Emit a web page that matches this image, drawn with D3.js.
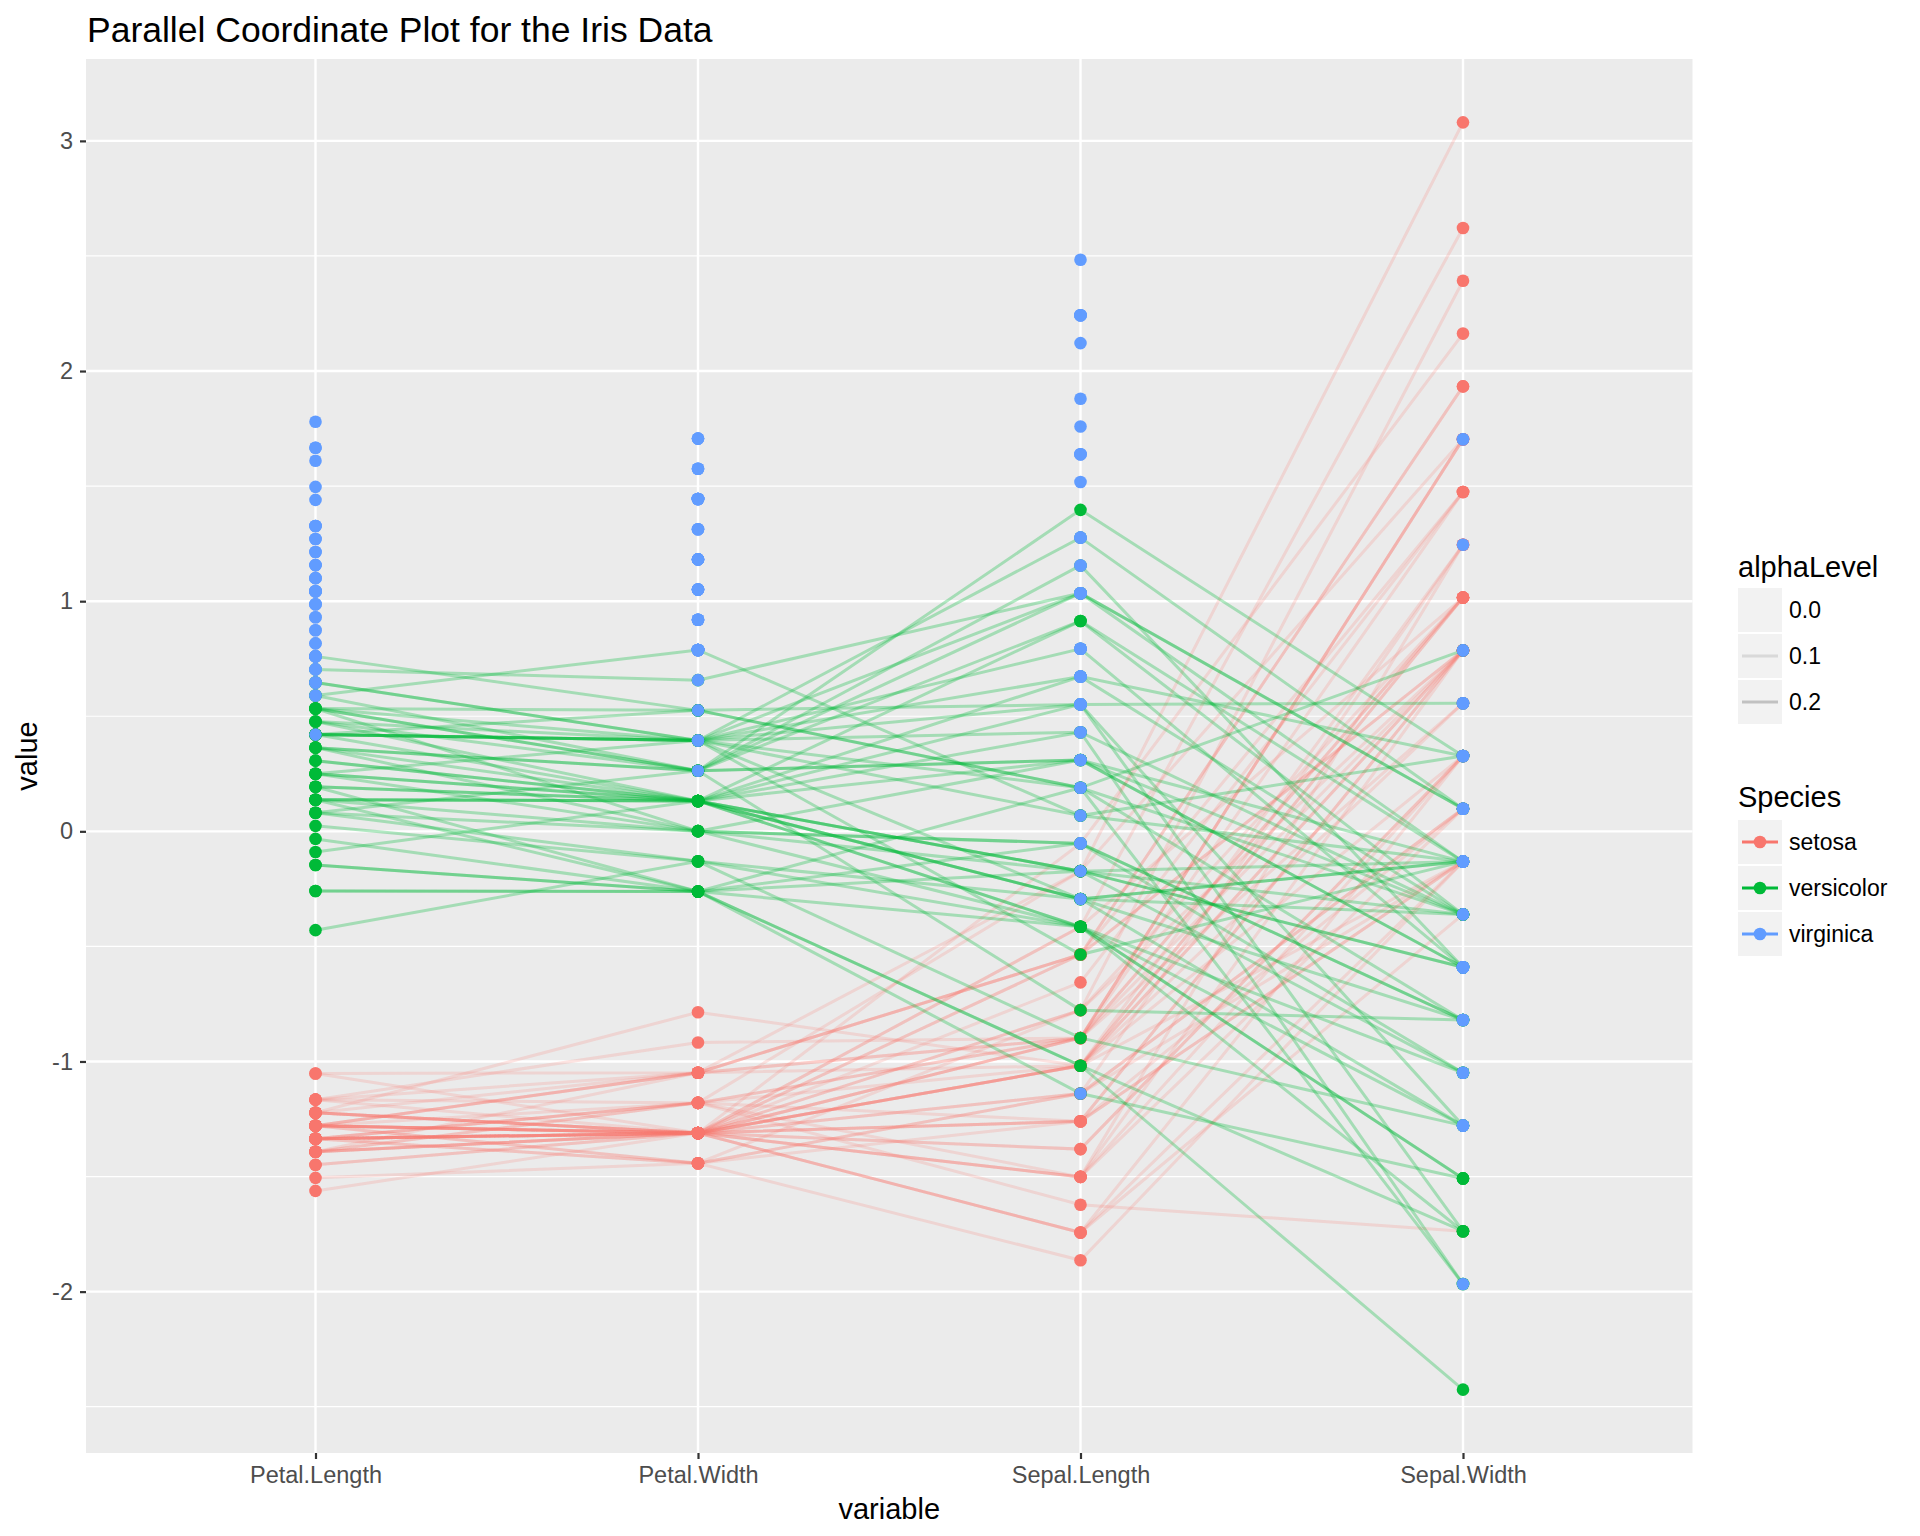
<!DOCTYPE html>
<html>
<head>
<meta charset="utf-8">
<script src="https://cdn.jsdelivr.net/npm/d3@7"></script>
<style>
  body { margin: 0; background: #fff; }
  text { font-family: "Liberation Sans", Arial, sans-serif; }
</style>
</head>
<body>
<script>
// iris measurements, rows 1..150 (setosa, versicolor, virginica in blocks)
var sepalLength = [5.1,4.9,4.7,4.6,5.0,5.4,4.6,5.0,4.4,4.9,5.4,4.8,4.8,4.3,5.8,5.7,5.4,5.1,5.7,5.1,5.4,5.1,4.6,5.1,4.8,5.0,5.0,5.2,5.2,4.7,4.8,5.4,5.2,5.5,4.9,5.0,5.5,4.9,4.4,5.1,5.0,4.5,4.4,5.0,5.1,4.8,5.1,4.6,5.3,5.0,
  7.0,6.4,6.9,5.5,6.5,5.7,6.3,4.9,6.6,5.2,5.0,5.9,6.0,6.1,5.6,6.7,5.6,5.8,6.2,5.6,5.9,6.1,6.3,6.1,6.4,6.6,6.8,6.7,6.0,5.7,5.5,5.5,5.8,6.0,5.4,6.0,6.7,6.3,5.6,5.5,5.5,6.1,5.8,5.0,5.6,5.7,5.7,6.2,5.1,5.7,
  6.3,5.8,7.1,6.3,6.5,7.6,4.9,7.3,6.7,7.2,6.5,6.4,6.8,5.7,5.8,6.4,6.5,7.7,7.7,6.0,6.9,5.6,7.7,6.3,6.7,7.2,6.2,6.1,6.4,7.2,7.4,7.9,6.4,6.3,6.1,7.7,6.3,6.4,6.0,6.9,6.7,6.9,5.8,6.8,6.7,6.7,6.3,6.5,6.2,5.9];
var sepalWidth = [3.5,3.0,3.2,3.1,3.6,3.9,3.4,3.4,2.9,3.1,3.7,3.4,3.0,3.0,4.0,4.4,3.9,3.5,3.8,3.8,3.4,3.7,3.6,3.3,3.4,3.0,3.4,3.5,3.4,3.2,3.1,3.4,4.1,4.2,3.1,3.2,3.5,3.6,3.0,3.4,3.5,2.3,3.2,3.5,3.8,3.0,3.8,3.2,3.7,3.3,
  3.2,3.2,3.1,2.3,2.8,2.8,3.3,2.4,2.9,2.7,2.0,3.0,2.2,2.9,2.9,3.1,3.0,2.7,2.2,2.5,3.2,2.8,2.5,2.8,2.9,3.0,2.8,3.0,2.9,2.6,2.4,2.4,2.7,2.7,3.0,3.4,3.1,2.3,3.0,2.5,2.6,3.0,2.6,2.3,2.7,3.0,2.9,2.9,2.5,2.8,
  3.3,2.7,3.0,2.9,3.0,3.0,2.5,2.9,2.5,3.6,3.2,2.7,3.0,2.5,2.8,3.2,3.0,3.8,2.6,2.2,3.2,2.8,2.8,2.7,3.3,3.2,2.8,3.0,2.8,3.0,2.8,3.8,2.8,2.8,2.6,3.0,3.4,3.1,3.0,3.1,3.1,3.1,2.7,3.2,3.3,3.0,2.5,3.0,3.4,3.0];
var petalLength = [1.4,1.4,1.3,1.5,1.4,1.7,1.4,1.5,1.4,1.5,1.5,1.6,1.4,1.1,1.2,1.5,1.3,1.4,1.7,1.5,1.7,1.5,1.0,1.7,1.9,1.6,1.6,1.5,1.4,1.6,1.6,1.5,1.5,1.4,1.5,1.2,1.3,1.4,1.3,1.5,1.3,1.3,1.3,1.6,1.9,1.4,1.6,1.4,1.5,1.4,
  4.7,4.5,4.9,4.0,4.6,4.5,4.7,3.3,4.6,3.9,3.5,4.2,4.0,4.7,3.6,4.4,4.5,4.1,4.5,3.9,4.8,4.0,4.9,4.7,4.3,4.4,4.8,5.0,4.5,3.5,3.8,3.7,3.9,5.1,4.5,4.5,4.7,4.4,4.1,4.0,4.4,4.6,4.0,3.3,4.2,4.2,4.2,4.3,3.0,4.1,
  6.0,5.1,5.9,5.6,5.8,6.6,4.5,6.3,5.8,6.1,5.1,5.3,5.5,5.0,5.1,5.3,5.5,6.7,6.9,5.0,5.7,4.9,6.7,4.9,5.7,6.0,4.8,4.9,5.6,5.8,6.1,6.4,5.6,5.1,5.6,6.1,5.6,5.5,4.8,5.4,5.6,5.1,5.1,5.9,5.7,5.2,5.0,5.2,5.4,5.1];
var petalWidth = [0.2,0.2,0.2,0.2,0.2,0.4,0.3,0.2,0.2,0.1,0.2,0.2,0.1,0.1,0.2,0.4,0.4,0.3,0.3,0.3,0.2,0.4,0.2,0.5,0.2,0.2,0.4,0.2,0.2,0.2,0.2,0.4,0.1,0.2,0.2,0.2,0.2,0.1,0.2,0.2,0.3,0.3,0.2,0.6,0.4,0.3,0.2,0.2,0.2,0.2,
  1.4,1.5,1.5,1.3,1.5,1.3,1.6,1.0,1.3,1.4,1.0,1.5,1.0,1.4,1.3,1.4,1.5,1.0,1.5,1.1,1.8,1.3,1.5,1.2,1.3,1.4,1.4,1.7,1.5,1.0,1.1,1.0,1.2,1.6,1.5,1.6,1.5,1.3,1.3,1.3,1.2,1.4,1.2,1.0,1.3,1.2,1.3,1.3,1.1,1.3,
  2.5,1.9,2.1,1.8,2.2,2.1,1.7,1.8,1.8,2.5,2.0,1.9,2.1,2.0,2.4,2.3,1.8,2.2,2.3,1.5,2.3,2.0,2.0,1.8,2.1,1.8,1.8,1.8,2.1,1.6,1.9,2.0,2.2,1.5,1.4,2.3,2.4,1.8,1.8,2.1,2.4,2.3,1.9,2.3,2.5,2.3,1.9,2.0,2.3,1.8];

var speciesNames = ["setosa", "versicolor", "virginica"];
var speciesCount = [50, 50, 50];
var speciesAlpha = [0.2, 0.3, 0];          // alphaLevel column
var speciesColors = ["#F8766D", "#00BA38", "#619CFF"];
var variables = ["Petal.Length", "Petal.Width", "Sepal.Length", "Sepal.Width"];
var alphaBreaks = [0, 0.1, 0.2];
var alphaLabels = ["0.0", "0.1", "0.2"];

var columns = {
  "Petal.Length": petalLength,
  "Petal.Width": petalWidth,
  "Sepal.Length": sepalLength,
  "Sepal.Width": sepalWidth
};

// species index of every row
var rowSpecies = [];
speciesCount.forEach(function (n, s) {
  for (var k = 0; k < n; k++) rowSpecies.push(s);
});

// scale = "std": (x - mean) / sd
var std = {};
variables.forEach(function (v) {
  var m = d3.mean(columns[v]), sd = d3.deviation(columns[v]);
  std[v] = columns[v].map(function (x) { return (x - m) / sd; });
});

var rows = rowSpecies.map(function (s, i) {
  return {
    species: s,
    values: variables.map(function (v) { return { variable: v, value: std[v][i] }; })
  };
});

var W = 1920, H = 1536;
var panel = { left: 86, right: 1692.5, top: 59, bottom: 1453 };

var svg = d3.select("body").append("svg")
  .attr("width", W)
  .attr("height", H);

var allValues = [];
variables.forEach(function (v) { allValues = allValues.concat(std[v]); });
var ext = d3.extent(allValues);
var pad = (ext[1] - ext[0]) * 0.05;

var x = d3.scalePoint()
  .domain(variables)
  .range([panel.left, panel.right])
  .padding(0.6);
var y = d3.scaleLinear()
  .domain([ext[0] - pad, ext[1] + pad])
  .range([panel.bottom, panel.top]);

// panel background
svg.append("rect")
  .attr("x", panel.left)
  .attr("y", panel.top)
  .attr("width", panel.right - panel.left)
  .attr("height", panel.bottom - panel.top)
  .attr("fill", "#EBEBEB");

var majorY = y.ticks(6);
var minorY = d3.range(majorY[0] - 0.5, majorY[majorY.length - 1] + 1, 1)
  .filter(function (d) { return d >= y.domain()[0] && d <= y.domain()[1]; });

svg.append("g").selectAll("line")
  .data(minorY)
  .enter().append("line")
  .attr("x1", panel.left).attr("x2", panel.right)
  .attr("y1", function (d) { return y(d); })
  .attr("y2", function (d) { return y(d); })
  .attr("stroke", "#fff")
  .attr("stroke-width", 1.2);

svg.append("g").selectAll("line")
  .data(majorY)
  .enter().append("line")
  .attr("x1", panel.left).attr("x2", panel.right)
  .attr("y1", function (d) { return y(d); })
  .attr("y2", function (d) { return y(d); })
  .attr("stroke", "#fff")
  .attr("stroke-width", 2.4);

svg.append("g").selectAll("line")
  .data(variables)
  .enter().append("line")
  .attr("y1", panel.top).attr("y2", panel.bottom)
  .attr("x1", function (d) { return x(d); })
  .attr("x2", function (d) { return x(d); })
  .attr("stroke", "#fff")
  .attr("stroke-width", 2.4);

// lines
var line = d3.line()
  .x(function (d) { return x(d.variable); })
  .y(function (d) { return y(d.value); });

svg.append("g").selectAll("path")
  .data(rows)
  .enter().append("path")
  .attr("d", function (d) { return line(d.values); })
  .attr("fill", "none")
  .attr("stroke", function (d) { return speciesColors[d.species]; })
  .attr("stroke-opacity", function (d) { return speciesAlpha[d.species]; })
  .attr("stroke-width", 3);

// points
var pts = [];
variables.forEach(function (v) {
  rows.forEach(function (r, i) {
    pts.push({ variable: v, value: std[v][i], species: r.species });
  });
});
svg.append("g").selectAll("circle")
  .data(pts)
  .enter().append("circle")
  .attr("cx", function (d) { return x(d.variable); })
  .attr("cy", function (d) { return y(d.value); })
  .attr("r", 6.3)
  .attr("fill", function (d) { return speciesColors[d.species]; });

// axes
var yAxis = svg.append("g")
  .attr("transform", "translate(" + panel.left + ",0)")
  .call(d3.axisLeft(y).tickValues(majorY).tickSize(6).tickPadding(7)
    .tickFormat(function (d) { return String(d); }));
var xAxis = svg.append("g")
  .attr("transform", "translate(0," + panel.bottom + ")")
  .call(d3.axisBottom(x).tickSize(6).tickPadding(6));

[yAxis, xAxis].forEach(function (g) {
  g.select(".domain").remove();
  g.selectAll(".tick line").attr("stroke", "#333333").attr("stroke-width", 2.2);
  g.selectAll(".tick text")
    .attr("fill", "#4D4D4D")
    .style("font-size", "23.5px")
    .style("font-family", "'Liberation Sans', Arial, sans-serif");
});
xAxis.selectAll(".tick text").attr("dy", "0.75em");

// titles
svg.append("text")
  .attr("x", 87).attr("y", 42)
  .style("font-size", "35.5px")
  .attr("fill", "#000")
  .text("Parallel Coordinate Plot for the Iris Data");

svg.append("text")
  .attr("x", (panel.left + panel.right) / 2).attr("y", 1519)
  .attr("text-anchor", "middle")
  .style("font-size", "29px")
  .text("variable");

svg.append("text")
  .attr("transform", "translate(37," + ((panel.top + panel.bottom) / 2) + ") rotate(-90)")
  .attr("text-anchor", "middle")
  .style("font-size", "29px")
  .text("value");

// legend: alphaLevel
var legX = 1738, keyW = 44, keyH = 44, pitch = 46;
svg.append("text")
  .attr("x", legX).attr("y", 577)
  .style("font-size", "29px")
  .text("alphaLevel");

var aKeys = svg.append("g").selectAll("g")
  .data(alphaBreaks)
  .enter().append("g")
  .attr("transform", function (d, i) { return "translate(" + legX + "," + (588 + i * pitch) + ")"; });
aKeys.append("rect")
  .attr("width", keyW).attr("height", keyH)
  .attr("fill", "#F2F2F2");
aKeys.append("line")
  .attr("x1", 4).attr("x2", keyW - 4)
  .attr("y1", keyH / 2).attr("y2", keyH / 2)
  .attr("stroke", "#000")
  .attr("stroke-opacity", function (d) { return d; })
  .attr("stroke-width", 3);
aKeys.append("text")
  .attr("x", keyW + 7).attr("y", keyH / 2)
  .attr("dy", "0.36em")
  .style("font-size", "23px")
  .text(function (d, i) { return alphaLabels[i]; });

// legend: Species
svg.append("text")
  .attr("x", legX).attr("y", 807)
  .style("font-size", "29px")
  .text("Species");

var sKeys = svg.append("g").selectAll("g")
  .data(speciesNames)
  .enter().append("g")
  .attr("transform", function (d, i) { return "translate(" + legX + "," + (820 + i * pitch) + ")"; });
sKeys.append("rect")
  .attr("width", keyW).attr("height", keyH)
  .attr("fill", "#F2F2F2");
sKeys.append("line")
  .attr("x1", 4).attr("x2", keyW - 4)
  .attr("y1", keyH / 2).attr("y2", keyH / 2)
  .attr("stroke", function (d, i) { return speciesColors[i]; })
  .attr("stroke-width", 3);
sKeys.append("circle")
  .attr("cx", keyW / 2).attr("cy", keyH / 2)
  .attr("r", 6.3)
  .attr("fill", function (d, i) { return speciesColors[i]; });
sKeys.append("text")
  .attr("x", keyW + 7).attr("y", keyH / 2)
  .attr("dy", "0.36em")
  .style("font-size", "23px")
  .text(function (d) { return d; });
</script>
</body>
</html>
